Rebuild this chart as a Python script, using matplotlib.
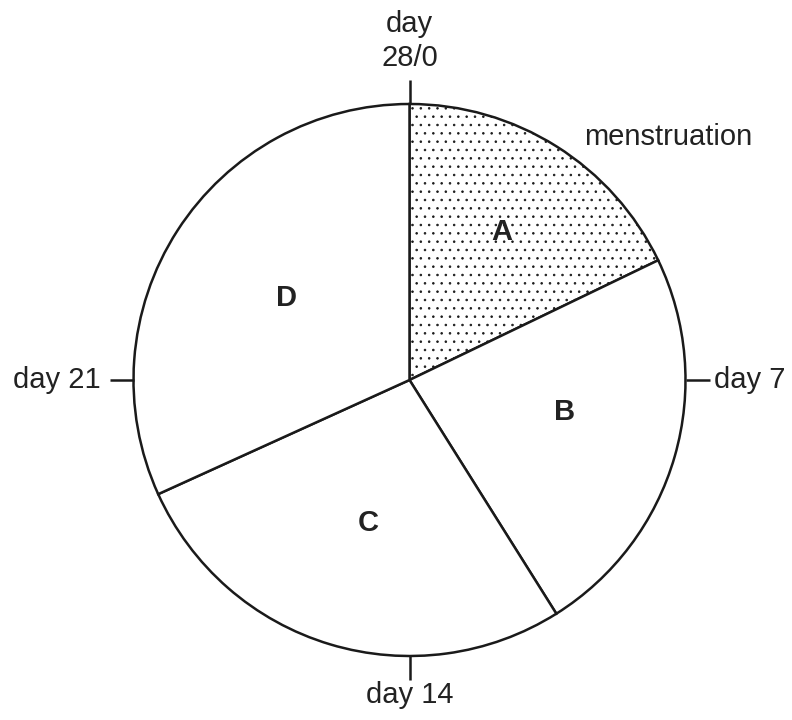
import numpy as np
import matplotlib
matplotlib.use("Agg")
from matplotlib import pyplot as plt

plt.rcParams['font.family'] = ['Liberation Sans', 'DejaVu Sans']
plt.rcParams['hatch.linewidth'] = 0.6
plt.rcParams['hatch.color'] = '#444444'

# phases of the cycle (days)
phases = ['A', 'B', 'C', 'D']
phase_days = [5, 6.5, 7.6, 8.9]
cycle_days = 28
tick_days = [0, 7, 14, 21]
tick_labels = ['day\n28/0', 'day 7', 'day 14', 'day 21']

# geometry in pixels (y up)
cx, cy, r = 409.5, 340, 276

fig = plt.figure(figsize=(7.92, 7.2), dpi=100)
ax = fig.add_axes([0, 0, 1, 1])

wedges, _ = ax.pie(phase_days, center=(cx, cy), radius=r, startangle=90,
                   counterclock=False, colors=['white'] * 4,
                   wedgeprops=dict(edgecolor='#1a1a1a', linewidth=1.8))
wedges[0].set_hatch('..')

# tick marks outside the circle
for d in tick_days:
    a = np.pi / 2 - 2 * np.pi * d / cycle_days
    ax.plot([cx + r * np.cos(a), cx + (r + 24) * np.cos(a)],
            [cy + r * np.sin(a), cy + (r + 24) * np.sin(a)],
            color='#1a1a1a', lw=1.8, solid_capstyle='butt')

fs = 21
ax.text(cx, 720 - 41, tick_labels[0], ha='center', va='center', fontsize=fs,
        linespacing=1.3, color='#222222')
ax.text(714, 340, tick_labels[1], ha='left', va='center', fontsize=fs, color='#222222')
ax.text(cx, 720 - 695, tick_labels[2], ha='center', va='center', fontsize=fs, color='#222222')
ax.text(101, 340, tick_labels[3], ha='right', va='center', fontsize=fs, color='#222222')
ax.text(668, 720 - 137, 'menstruation', ha='center', va='center', fontsize=fs, color='#222222')

label_pos = [(502, 232), (565, 412), (368, 523), (286, 298)]
for name, (x, y) in zip(phases, label_pos):
    ax.text(x, 720 - y, name, ha='center', va='center', fontsize=fs,
            fontweight='bold', color='#222222')

ax.set_xlim(0, 792)
ax.set_ylim(0, 720)
ax.set_aspect('equal')
ax.axis('off')

fig.savefig('out.png', dpi=100, facecolor='white')
